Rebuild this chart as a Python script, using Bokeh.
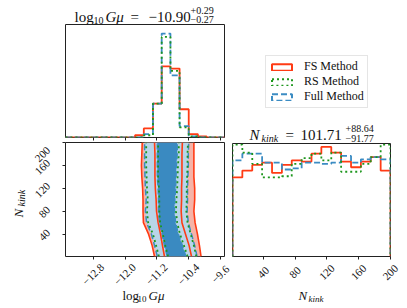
from math import pi
from bokeh.plotting import figure
from bokeh.models import Label, Legend, LegendItem, FixedTicker, Range1d
from bokeh.core.properties import value
from bokeh.layouts import column, row
from bokeh.embed import file_html
from bokeh.resources import INLINE

# ---------------- data ----------------
# marginal histogram of log10 G mu (bin edges and normalised heights)
gmu_edges = [-11.75, -11.53, -11.30, -11.08, -10.86, -10.63, -10.40, -10.17, -9.95]
gmu_fs = [0.02, 0.08, 0.30, 0.63, 0.61, 0.25, 0.03, 0.01]
gmu_rs = [0.00, 0.02, 0.30, 0.89, 0.59, 0.09, 0.01, 0.00]
gmu_full = [0.00, 0.03, 0.30, 0.92, 0.55, 0.10, 0.01, 0.00]

# marginal histogram of N_kink
nk_edges = [1.0, 13.4, 25.9, 38.3, 50.8, 63.2, 75.6, 88.1, 100.5, 112.9,
            125.4, 137.8, 150.3, 162.7, 175.1, 187.6, 200.0]
nk_fs = [0.70, 0.76, 0.81, 0.83, 0.74, 0.81, 0.85, 0.84, 0.91, 0.97, 0.92, 0.84, 0.79, 0.84, 0.88, 0.76]
nk_rs = [0.99, 0.92, 0.82, 0.70, 0.70, 0.71, 0.82, 0.87, 0.91, 0.85, 0.92, 0.75, 0.75, 0.82, 0.88, 0.99]
nk_full = [0.85, 0.91, 0.91, 0.83, 0.83, 0.77, 0.78, 0.83, 0.83, 0.82, 0.83, 0.89, 0.83, 0.86, 0.88, 0.86]

# 2D credible-region boundaries (log10 G mu) at these N_kink values
nk_levels = [1, 20, 40, 60, 80, 100, 120, 140, 160, 180, 200]
fs_2s_lo = [-11.26, -11.32, -11.41, -11.54, -11.55, -11.55, -11.56, -11.58, -11.59, -11.58, -11.57]
fs_1s_lo = [-11.01, -11.06, -11.11, -11.17, -11.21, -11.22, -11.24, -11.25, -11.25, -11.25, -11.26]
fs_1s_hi = [-10.33, -10.39, -10.48, -10.57, -10.59, -10.58, -10.58, -10.57, -10.57, -10.57, -10.56]
fs_2s_hi = [-10.09, -10.13, -10.18, -10.24, -10.27, -10.25, -10.25, -10.27, -10.27, -10.27, -10.27]
full_2s_lo = [-11.19, -11.26, -11.34, -11.46, -11.49, -11.47, -11.49, -11.50, -11.51, -11.51, -11.51]
full_1s_lo = [-10.94, -11.01, -11.07, -11.14, -11.16, -11.16, -11.17, -11.19, -11.19, -11.19, -11.19]
full_1s_hi = [-10.47, -10.56, -10.66, -10.73, -10.76, -10.75, -10.73, -10.72, -10.71, -10.69, -10.69]
full_2s_hi = [-10.19, -10.25, -10.33, -10.41, -10.44, -10.43, -10.43, -10.42, -10.41, -10.41, -10.40]
rs_2s_lo = [-11.15, -11.22, -11.30, -11.42, -11.45, -11.43, -11.45, -11.46, -11.47, -11.47, -11.47]
rs_1s_lo = [-10.92, -10.99, -11.05, -11.12, -11.14, -11.14, -11.15, -11.17, -11.17, -11.17, -11.17]
rs_1s_hi = [-10.43, -10.52, -10.62, -10.69, -10.72, -10.71, -10.69, -10.68, -10.67, -10.65, -10.65]
rs_2s_hi = [-10.21, -10.27, -10.35, -10.43, -10.46, -10.45, -10.45, -10.44, -10.43, -10.43, -10.42]

gmu_ticks = [-12.8, -12.0, -11.2, -10.4, -9.6]
gmu_tick_labels = ["\u221212.8", "\u221212.0", "\u221211.2", "\u221210.4", "\u22129.6"]
nk_ticks = [40, 80, 120, 160, 200]
nk_tick_labels = ["40", "80", "120", "160", "200"]
gmu_lim = (-13.5, -9.5)
nk_lim = (1, 200)

methods = ["FS Method", "RS Method", "Full Method"]

# ---------------- style ----------------
RED = "#ff3b14"
GREEN = "#1d961d"
BLUE = "#3b8cc3"
DARK_FILL = "#3a8ac1"
LIGHT_FILL = "#b8d5e8"
RED_FILL = "#f6b3a7"
FONT = "Liberation Serif"
TXT = "#111111"

# geometry (px)
FW_L = 159          # frame width of the left column panels
FW_R = 158          # frame width of the N_kink marginal
FH_B = 114          # frame height of the 2D panel
GMU_PX = FW_L / (gmu_lim[1] - gmu_lim[0])
NK_PX = FW_R / (nk_lim[1] - nk_lim[0])
NK_PY = FH_B / (nk_lim[1] - nk_lim[0])

COMMON = dict(toolbar_location=None, output_backend="svg", frame_align=False)


def step_xy(edges, vals, lo, hi):
    xs = [lo] + list(edges) + [hi]
    ys = [0.0] + list(vals) + [0.0, 0.0]
    return xs, ys


def ticks_only(ax, ticks):
    ax.ticker = FixedTicker(ticks=ticks)
    ax.minor_tick_line_color = None
    ax.major_tick_in = 0
    ax.major_tick_out = 3
    ax.major_tick_line_color = "#222222"
    ax.axis_line_color = None
    ax.major_label_text_color = None
    ax.major_label_text_font_size = "1px"
    ax.major_label_standoff = 0


def base(p):
    p.grid.visible = False
    p.outline_line_color = "#222222"
    p.outline_line_width = 1
    p.background_fill_color = "white"
    p.border_fill_color = "white"


def text_fig(w, h, xr, yr):
    f = figure(width=w, height=h, x_range=xr, y_range=yr,
               min_border_left=0, min_border_right=0, min_border_top=0, min_border_bottom=0,
               x_axis_type=None, y_axis_type=None, **COMMON)
    f.outline_line_color = None
    f.border_fill_color = "white"
    return f


def lab(p, x, y, text, size, italic=False, angle=0.0):
    p.add_layout(Label(x=x, y=y, x_units="screen", y_units="screen", text=text,
                       text_font=FONT, text_font_size=f"{size}px",
                       text_font_style="italic" if italic else "normal",
                       text_color=TXT, angle=angle, text_align="left",
                       text_baseline="alphabetic"))


# ---------------- title strip above log10 G mu marginal ----------------
t_top = text_fig(232, 24, Range1d(0, 232), Range1d(0, 24))
lab(t_top, 74, 7.5, "log", 15)
lab(t_top, 93, 4.5, "10", 10)
lab(t_top, 105, 7.5, "G\u03bc", 15, italic=True)
lab(t_top, 130, 7.5, "=", 15)
lab(t_top, 148, 7.5, "\u221210.90", 15)
lab(t_top, 190, 14.5, "+0.29", 10)
lab(t_top, 190, 5.5, "\u22120.27", 10)

# ---------------- top-left: log10 G mu marginal ----------------
p_top = figure(width=232, height=118, x_range=Range1d(*gmu_lim), y_range=Range1d(0, 1),
               min_border_left=65, min_border_right=8, min_border_top=0, min_border_bottom=5,
               y_axis_type=None, **COMMON)
base(p_top)
ticks_only(p_top.xaxis[0], gmu_ticks)
for vals, col, dash in [(gmu_fs, RED, "solid"), (gmu_full, BLUE, "6 3"), (gmu_rs, GREEN, "2 3")]:
    xs, ys = step_xy(gmu_edges, vals, gmu_lim[0], gmu_lim[1])
    p_top.step(xs, ys, mode="after", line_color=col, line_width=1.8, line_dash=dash)

# ---------------- legend panel + N_kink title ----------------
p_leg = text_fig(175, 143, Range1d(0, 1), Range1d(0, 1))
proxy = []
for vals, col, dash in [(nk_fs, RED, "solid"), (nk_rs, GREEN, "2 3"), (nk_full, BLUE, "6 3")]:
    r = p_leg.quad(left=nk_edges[:-1], right=nk_edges[1:], top=vals, bottom=0,
                   fill_alpha=0, line_color=col, line_width=2, line_dash=dash, visible=False)
    proxy.append(r)
legend = Legend(items=[LegendItem(label=m, renderers=[r]) for m, r in zip(methods, proxy)],
                location=(33, 35), label_text_font=FONT, label_text_font_size="12px",
                label_text_color=TXT, glyph_width=25, glyph_height=8, label_height=12,
                spacing=0, padding=3, margin=0, label_standoff=10,
                border_line_color="#cccccc", border_line_width=1, background_fill_alpha=1)
p_leg.add_layout(legend)
lab(p_leg, 17, 8.5, "N", 15, italic=True)
lab(p_leg, 29, 5.5, "kink", 10, italic=True)
lab(p_leg, 53, 8.5, "=", 15)
lab(p_leg, 68, 8.5, "101.71", 15)
lab(p_leg, 113, 15.5, "+88.64", 10)
lab(p_leg, 113, 5, "\u221291.77", 10)

# ---------------- y tick labels + y label strip ----------------
ylab = text_fig(60, 119, Range1d(0, 60), Range1d(nk_lim[0] - 5 / NK_PY, nk_lim[1]))
ylab.text(x=[48] * len(nk_ticks), y=nk_ticks, text=nk_tick_labels, angle=pi / 4,
          text_align="right", text_baseline="middle", y_offset=[-3, -3, -4, -4, 6],
          text_font=value(FONT), text_font_size="11px", text_color=TXT)
lab(ylab, 18, 44, "N", 13, italic=True, angle=pi / 2)
lab(ylab, 21, 55, "kink", 10, italic=True, angle=pi / 2)

# ---------------- bottom-left: 2D credible regions ----------------
p_bl = figure(width=172, height=119, x_range=Range1d(*gmu_lim), y_range=Range1d(*nk_lim),
              min_border_left=5, min_border_right=8, min_border_top=0, min_border_bottom=5,
              **COMMON)
base(p_bl)
ticks_only(p_bl.xaxis[0], gmu_ticks)
ticks_only(p_bl.yaxis[0], nk_ticks)

p_bl.harea(x1=fs_2s_lo, x2=fs_2s_hi, y=nk_levels, fill_color=RED_FILL)
p_bl.harea(x1=full_2s_lo, x2=full_2s_hi, y=nk_levels, fill_color=LIGHT_FILL)
p_bl.harea(x1=full_1s_lo, x2=full_1s_hi, y=nk_levels, fill_color=DARK_FILL)
for xs in [full_2s_lo, full_1s_lo, full_1s_hi, full_2s_hi]:
    p_bl.line(xs, nk_levels, line_color=BLUE, line_width=1.5, line_dash="6 3")
for xs in [rs_2s_lo, rs_1s_lo, rs_1s_hi, rs_2s_hi]:
    p_bl.line(xs, nk_levels, line_color=GREEN, line_width=1.8, line_dash="2 3")
for xs in [fs_2s_lo, fs_1s_lo, fs_1s_hi, fs_2s_hi]:
    p_bl.line(xs, nk_levels, line_color=RED, line_width=1.6)

# ---------------- bottom-right: N_kink marginal ----------------
p_br = figure(width=175, height=118, x_range=Range1d(*nk_lim), y_range=Range1d(0, 1),
              min_border_left=0, min_border_right=17, min_border_top=0, min_border_bottom=5,
              y_axis_type=None, **COMMON)
base(p_br)
ticks_only(p_br.xaxis[0], nk_ticks)
for vals, col, dash in [(nk_fs, RED, "solid"), (nk_full, BLUE, "6 3"), (nk_rs, GREEN, "2 3")]:
    xs, ys = step_xy(nk_edges, vals, nk_lim[0], nk_lim[1])
    p_br.step(xs, ys, mode="after", line_color=col, line_width=1.8, line_dash=dash)

# ---------------- x tick labels + x labels ----------------
xl_left = text_fig(232, 47, Range1d(gmu_lim[0] - 65 / GMU_PX, gmu_lim[0] + 167 / GMU_PX), Range1d(0, 47))
xl_left.text(x=gmu_ticks, y=[34] * len(gmu_ticks), text=gmu_tick_labels, angle=pi / 4,
             text_align="center", text_baseline="middle",
             text_font=value(FONT), text_font_size="11px", text_color=TXT)
lab(xl_left, 122, 13, "log", 13)
lab(xl_left, 137, 10, "10", 9)
lab(xl_left, 148, 13, "G\u03bc", 13, italic=True)

xl_right = text_fig(175, 47, Range1d(nk_lim[0], nk_lim[0] + 175 / NK_PX), Range1d(0, 47))
xl_right.text(x=nk_ticks, y=[36] * len(nk_ticks), text=nk_tick_labels, angle=pi / 4,
              text_align="center", text_baseline="middle",
              text_font=value(FONT), text_font_size="11px", text_color=TXT)
lab(xl_right, 66, 13, "N", 13, italic=True)
lab(xl_right, 76, 10, "kink", 9, italic=True)

left_col = column(t_top, p_top, row(ylab, p_bl), xl_left)
right_col = column(p_leg, p_br, xl_right)
layout = row(left_col, right_col)
open("out.html", "w").write(file_html(layout, INLINE))
